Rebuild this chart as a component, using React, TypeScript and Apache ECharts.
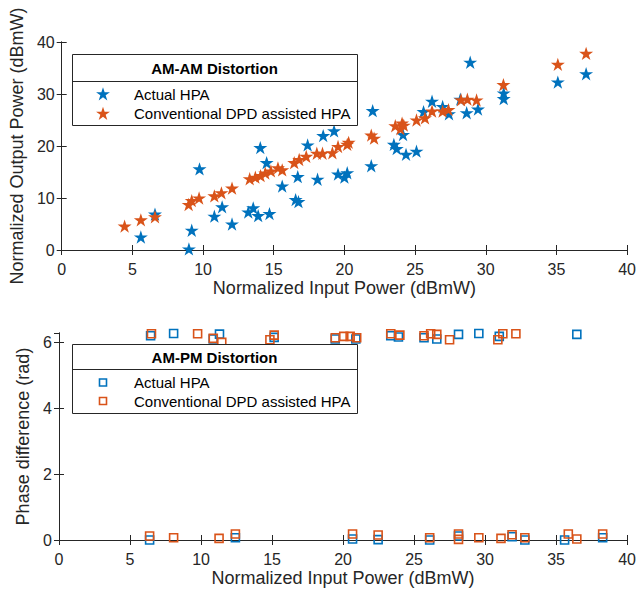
import React, { useEffect, useRef } from "react";
import * as echarts from "echarts";

// ---- data ----
const xTicksMax = 40;
const amActualHPA: [number, number][] = [
  [5.6, 2.5], [6.6, 6.9], [9.0, 0.2], [9.2, 3.8], [9.75, 15.6], [10.8, 6.5], [11.35, 8.3], [12.05, 5.0],
  [13.2, 7.3], [13.55, 8.1], [13.9, 6.6], [14.7, 7.0], [14.05, 19.7], [14.5, 16.8], [15.6, 12.3],
  [16.7, 14.1], [16.55, 9.7], [16.75, 9.3], [17.4, 20.2], [18.1, 13.6], [18.5, 22.0], [19.27, 22.9],
  [19.55, 14.6], [20.0, 14.0], [20.2, 14.85], [22.0, 26.8], [21.9, 16.2], [23.5, 20.3], [23.7, 19.5],
  [24.15, 22.2], [24.36, 18.4], [25.1, 19.0], [25.6, 26.6], [26.2, 28.6], [26.95, 27.6], [27.4, 26.2],
  [28.2, 29.0], [28.65, 26.4], [28.9, 36.1], [29.45, 27.1], [31.27, 30.2], [31.27, 29.1], [35.1, 32.3],
  [37.1, 33.9],
];
const amDpdHPA: [number, number][] = [
  [4.45, 4.6], [5.6, 5.8], [6.6, 6.4], [8.98, 8.75], [9.2, 9.5], [9.72, 10.0], [10.8, 10.4], [11.3, 11.0],
  [12.05, 11.9], [13.3, 13.7], [13.7, 14.0], [14.07, 14.3], [14.4, 14.8], [14.8, 15.2], [15.3, 15.8],
  [15.6, 15.4], [16.45, 16.8], [16.8, 17.4], [17.3, 18.0], [18.05, 18.6], [18.45, 18.6], [19.15, 18.7],
  [19.55, 19.9], [20.2, 20.3], [20.3, 20.7], [21.9, 22.1], [22.1, 21.5], [23.6, 23.9], [24.08, 24.4],
  [23.96, 23.3], [24.2, 24.0], [25.1, 25.0], [25.7, 25.4], [26.2, 26.7], [26.95, 26.7], [27.36, 27.0],
  [28.25, 28.9], [28.7, 29.0], [29.35, 28.85], [31.25, 31.8], [35.1, 35.7], [37.1, 37.8],
];
const pmActualHPA: [number, number][] = [
  [6.45, 6.2], [8.07, 6.27], [10.86, 6.1], [11.3, 6.25], [15.15, 6.15], [19.45, 6.1], [20.9, 6.1],
  [23.36, 6.2], [23.9, 6.16], [25.7, 6.14], [26.6, 6.1], [28.13, 6.24], [29.56, 6.27], [31.0, 6.18],
  [36.46, 6.24],
  [6.38, 0.0], [12.42, 0.07], [20.67, 0.03], [22.47, 0.01], [26.1, 0.0], [28.13, 0.12], [31.9, 0.1],
  [32.8, 0.0], [35.6, 0.0], [38.28, 0.07],
];
const pmDpdHPA: [number, number][] = [
  [6.51, 6.26], [9.76, 6.26], [10.86, 6.12], [11.46, 6.0], [14.85, 6.08], [15.15, 6.22], [19.45, 6.14],
  [20.05, 6.18], [20.5, 6.18], [20.96, 6.14], [23.36, 6.26], [24.0, 6.22], [25.7, 6.2], [26.17, 6.26],
  [26.6, 6.24], [27.5, 6.08], [30.9, 6.08], [31.25, 6.26], [32.17, 6.26],
  [6.38, 0.12], [8.07, 0.07], [11.27, 0.05], [12.42, 0.18], [20.67, 0.18], [22.47, 0.15], [26.1, 0.07],
  [28.13, 0.18], [28.13, 0.02], [29.56, 0.07], [31.12, 0.05], [31.9, 0.16], [32.8, 0.07], [35.86, 0.18],
  [36.46, 0.03], [38.28, 0.18],
];
const seriesNames = ["Actual HPA", "Conventional DPD assisted HPA"];
const legendTitles = ["AM-AM Distortion", "AM-PM Distortion"];
const xName = "Normalized Input Power (dBmW)";
const yNames = ["Normalized Output Power (dBmW)", "Phase difference (rad)"];

// ---- style ----
const BLUE = "#0072BD";
const ORANGE = "#D95319";
const AX = "#262626";
const FONT = "'Liberation Sans', Arial, Helvetica, sans-serif";
const STAR =
  "path://M0,-10L2.245,-3.09L9.511,-3.09L3.633,1.18L5.878,8.09L0,3.82L-5.878,8.09L-3.633,1.18L-9.511,-3.09L-2.245,-3.09Z";

function starPoints(cx: number, cy: number, r: number): number[][] {
  const pts: number[][] = [];
  for (let k = 0; k < 10; k++) {
    const a = ((-90 + k * 36) * Math.PI) / 180;
    const rr = k % 2 === 0 ? r : r * 0.382;
    pts.push([cx + rr * Math.cos(a), cy + rr * Math.sin(a)]);
  }
  return pts;
}

export default function App() {
  const ref = useRef<HTMLDivElement>(null);
  useEffect(() => {
    if (!ref.current) return;
    const chart = echarts.init(ref.current, undefined, { renderer: "svg" });
    const axisLine = { show: true, lineStyle: { color: AX, width: 1 } };
    const tick = { show: true, inside: true, length: 5, lineStyle: { color: AX, width: 1 } };
    const label = { color: AX, fontSize: 16, fontFamily: FONT };
    const nameStyle = { color: AX, fontSize: 18, fontFamily: FONT };

    const xAxes: any[] = [];
    const yAxes: any[] = [];
    [0, 1].forEach((g) => {
      xAxes.push({
        type: "value", gridIndex: g, min: 0, max: xTicksMax, interval: 5, position: "bottom",
        axisLine, axisTick: tick, splitLine: { show: false },
        axisLabel: { ...label, margin: 11 },
        name: xName, nameLocation: "middle", nameGap: 29, nameTextStyle: nameStyle,
      });
      xAxes.push({
        type: "value", gridIndex: g, min: 0, max: xTicksMax, interval: 5, position: "top",
        axisLine, axisTick: tick, splitLine: { show: false }, axisLabel: { show: false },
      });
    });
    yAxes.push({
      type: "value", gridIndex: 0, min: 0, max: 40, interval: 10, position: "left",
      axisLine, axisTick: tick, splitLine: { show: false },
      axisLabel: { ...label, margin: 7 },
      name: yNames[0], nameLocation: "middle", nameGap: 23, nameTextStyle: nameStyle,
    });
    yAxes.push({
      type: "value", gridIndex: 0, min: 0, max: 40, interval: 10, position: "right",
      axisLine, axisTick: tick, splitLine: { show: false }, axisLabel: { show: false },
    });
    yAxes.push({
      type: "value", gridIndex: 1, min: 0, max: 2 * Math.PI, interval: 2, position: "left",
      axisLine, axisTick: tick, splitLine: { show: false },
      axisLabel: {
        ...label, margin: 7, showMaxLabel: false,
        formatter: (v: number) => (Math.abs(v - Math.round(v)) < 1e-9 ? String(Math.round(v)) : ""),
      },
      name: yNames[1], nameLocation: "middle", nameGap: 20, nameTextStyle: nameStyle,
    });
    yAxes.push({
      type: "value", gridIndex: 1, min: 0, max: 2 * Math.PI, interval: 2, position: "right",
      axisLine, axisTick: tick, splitLine: { show: false }, axisLabel: { show: false },
    });

    const starSeries = (data: [number, number][], color: string, name: string) => ({
      type: "scatter", name, xAxisIndex: 0, yAxisIndex: 0, data, symbol: STAR, symbolSize: 14,
      symbolKeepAspect: true, clip: false, itemStyle: { color, opacity: 1 },
    });
    const squareSeries = (data: [number, number][], color: string, name: string) => ({
      type: "scatter", name, xAxisIndex: 2, yAxisIndex: 2, data, symbol: "rect", symbolSize: 8,
      clip: false, itemStyle: { color: "rgba(0,0,0,0)", borderColor: color, borderWidth: 1.6, opacity: 1 },
    });

    const legendBox = (top: number, height: number, sep: number, title: string, e1: number, e2: number, square: boolean) => {
      const left = 72, width = 285;
      const els: any[] = [
        { type: "rect", z: 100, shape: { x: left + 0.5, y: top + 0.5, width, height }, style: { fill: "#fff", stroke: AX, lineWidth: 1 } },
        { type: "line", z: 101, shape: { x1: left + 0.5, y1: sep + 0.5, x2: left + width + 0.5, y2: sep + 0.5 }, style: { stroke: AX, lineWidth: 1 } },
        { type: "text", z: 101, x: left + width / 2, y: (top + sep) / 2 + 1, style: { text: title, fill: "#000", font: `bold 15px ${FONT}`, align: "center", verticalAlign: "middle" } },
      ];
      [e1, e2].forEach((cy, i) => {
        const color = i === 0 ? BLUE : ORANGE;
        if (square) {
          els.push({ type: "rect", z: 101, shape: { x: 99.5, y: cy - 3.5, width: 7, height: 7 }, style: { fill: "none", stroke: color, lineWidth: 1.6 } });
        } else {
          els.push({ type: "polygon", z: 101, shape: { points: starPoints(103, cy + 0.5, 7.3) }, style: { fill: color } });
        }
        els.push({ type: "text", z: 101, x: 134, y: cy, style: { text: seriesNames[i], fill: "#000", font: `15px ${FONT}`, align: "left", verticalAlign: "middle" } });
      });
      return els;
    };

    chart.setOption({
      animation: false,
      backgroundColor: "#fff",
      grid: [
        { left: 59, top: 42, width: 569, height: 208, containLabel: false },
        { left: 59, top: 333, width: 569, height: 207, containLabel: false },
      ],
      xAxis: xAxes,
      yAxis: yAxes,
      series: [
        starSeries(amActualHPA, BLUE, seriesNames[0]),
        starSeries(amDpdHPA, ORANGE, seriesNames[1]),
        squareSeries(pmActualHPA, BLUE, seriesNames[0]),
        squareSeries(pmDpdHPA, ORANGE, seriesNames[1]),
      ],
      graphic: [
        ...legendBox(54, 71, 81, legendTitles[0], 94, 113.5, false),
        ...legendBox(344, 69, 369, legendTitles[1], 382.5, 401, true),
      ],
    });
    return () => chart.dispose();
  }, []);
  return <div ref={ref} style={{ position: "absolute", left: 0, top: 0, width: 639, height: 593 }} />;
}
